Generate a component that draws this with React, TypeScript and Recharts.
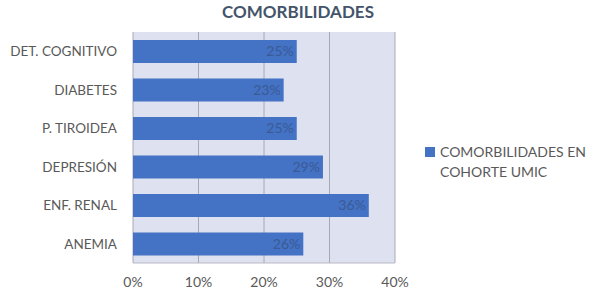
import React from 'react';
import { BarChart, Bar, XAxis, YAxis, CartesianGrid, LabelList } from 'recharts';

const categories = ['DET. COGNITIVO', 'DIABETES', 'P. TIROIDEA', 'DEPRESIÓN', 'ENF. RENAL', 'ANEMIA'];
const values = [25, 23, 25, 29, 36, 26];
const xTicks = [0, 10, 20, 30, 40];
const seriesName = 'COMORBILIDADES EN COHORTE UMIC';

const data = categories.map((c, i) => ({ name: c, value: values[i] }));

const FONT = 'Lato, "Open Sans", sans-serif';
const TEXT = '#595959';

const LegendBox = () => (
  <div style={{ position: 'absolute', left: 425, top: 142, width: 175, display: 'flex', alignItems: 'flex-start', fontFamily: FONT, fontSize: 14, color: TEXT, lineHeight: '20px' }}>
    <div style={{ width: 10, height: 10, background: '#4472C4', marginTop: 5, marginRight: 5, flex: 'none' }} />
    <div>COMORBILIDADES EN<br />COHORTE UMIC</div>
  </div>
);

export default function App() {
  return (
    <div style={{ position: 'absolute', left: 0, top: 0, width: 600, height: 298, background: '#fff' }}>
      <div style={{ position: 'absolute', left: 0, top: 0, width: 600, textAlign: 'center', fontFamily: FONT, fontWeight: 700, fontSize: 17, color: '#44546A', lineHeight: '24px' }}>
        <span style={{ position: 'relative', left: -2 }}>COMORBILIDADES</span>
      </div>
      <BarChart
        width={600}
        height={298}
        data={data}
        layout="vertical"
        margin={{ top: 32, right: 205, bottom: 0, left: 0 }}
      >
        <CartesianGrid fill="#DDE1F0" horizontal={false} vertical={true} stroke="#A8A8B4" />
        <XAxis
          type="number"
          domain={[0, 40]}
          ticks={xTicks}
          tickFormatter={(v: number) => `${v}%`}
          axisLine={{ stroke: '#B8B8C4' }}
          tickLine={false}
          tickMargin={8}
          height={35}
          tick={{ fill: TEXT, fontSize: 14, fontFamily: FONT }}
        />
        <YAxis
          type="category"
          dataKey="name"
          width={133}
          axisLine={false}
          tickLine={false}
          tickMargin={10}
          tick={{ fill: TEXT, fontSize: 13.5, fontFamily: FONT }}
        />
        <Bar dataKey="value" name={seriesName} fill="#4472C4" barSize={23} isAnimationActive={false}>
          <LabelList
            dataKey="value"
            position="insideRight"
            offset={3}
            formatter={(v: number) => `${v}%`}
            style={{ fill: '#3A5B96', fontSize: 14, fontFamily: FONT }}
          />
        </Bar>
      </BarChart>
      <LegendBox />
    </div>
  );
}
